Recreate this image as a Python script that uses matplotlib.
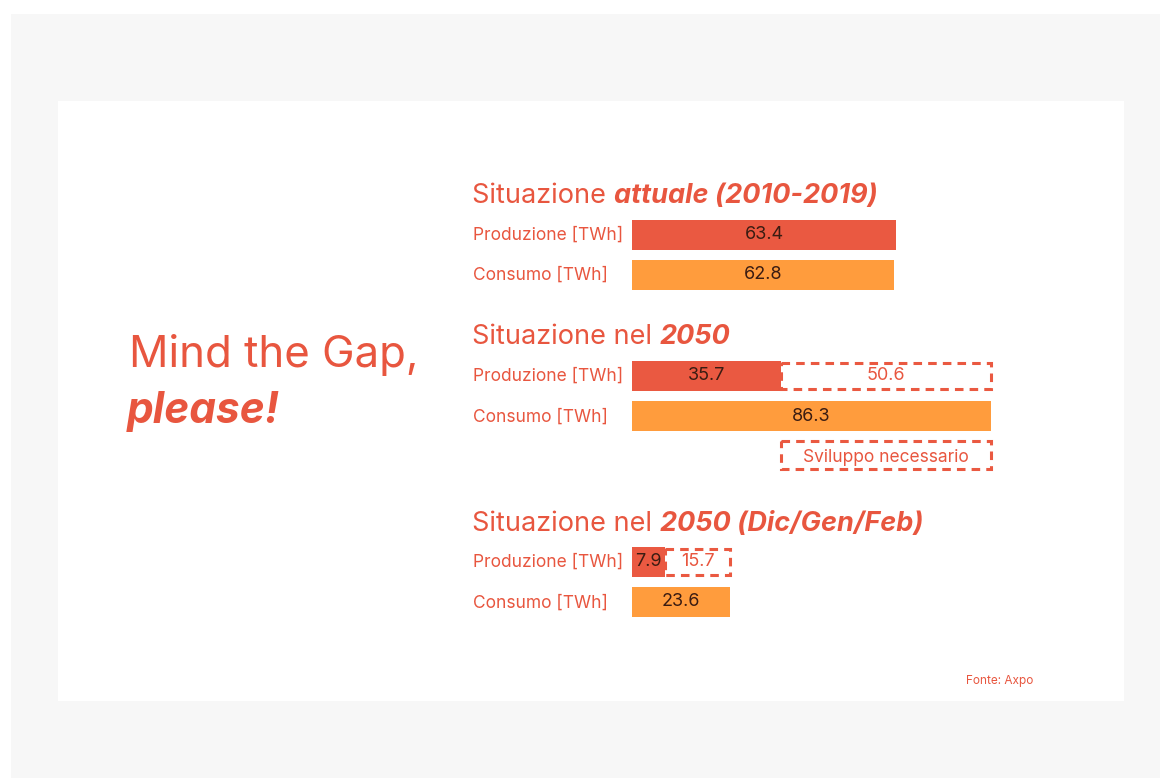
import matplotlib.pyplot as plt
from matplotlib.patches import Rectangle

# dati (TWh)
groups = ['attuale (2010-2019)', '2050', '2050 (Dic/Gen/Feb)']
produzione = [63.4, 35.7, 7.9]
consumo = [62.8, 86.3, 23.6]
gap = [None, 50.6, 15.7]
row_labels = ['Produzione [TWh]', 'Consumo [TWh]']
title_pre = ['Situazione ', 'Situazione nel ', 'Situazione nel ']

RED = '#EA5941'
ORANGE = '#FF9C3D'
TXT = '#E8563F'
DARK = '#3a1c12'
FONT = 'Inter'

plt.rcParams['font.family'] = [FONT, 'DejaVu Sans']

W, H = 1160, 778
fig = plt.figure(figsize=(W / 100, H / 100), dpi=100)

# sfondo
bg = fig.add_axes([0, 0, 1, 1])
bg.set_xlim(0, W)
bg.set_ylim(H, 0)
bg.axis('off')
bg.add_patch(Rectangle((11, 14), W - 11, H - 14, color='#f7f7f7', lw=0))
bg.add_patch(Rectangle((58, 101), 1124 - 58, 701 - 101, color='white', lw=0))

# asse delle barre: x in TWh, y in pixel
x0 = 632
scale = 264 / 63.4  # px per TWh
ax = fig.add_axes([x0 / W, 0, 1 - x0 / W, 1])
ax.set_xlim(0, (W - x0) / scale)
ax.set_ylim(H, 0)
ax.axis('off')

title_y = [196, 337, 524]
prod_y = [234.5, 375.5, 561.5]
cons_y = [274.5, 416, 602]
bar_h = 30
dash = (0, (2.8, 2))

for i in range(3):
    # titolo
    t = bg.text(472, title_y[i], title_pre[i], color=TXT, fontsize=19.5,
                va='center', ha='left')
    bg.annotate(groups[i], xy=(1, 0), xycoords=t, va='bottom', ha='left',
                color=TXT, fontsize=19.5, fontweight='bold', fontstyle='italic')
    # etichette righe
    bg.text(473, prod_y[i] + 1, row_labels[0], color=TXT, fontsize=12.5, va='center')
    bg.text(473, cons_y[i] + 1, row_labels[1], color=TXT, fontsize=12.5, va='center')

    # barre
    ax.barh(prod_y[i], produzione[i], height=bar_h, color=RED, lw=0)
    ax.barh(cons_y[i], consumo[i], height=bar_h, color=ORANGE, lw=0)
    ax.text(produzione[i] / 2, prod_y[i], f'{produzione[i]}', color=DARK,
            fontsize=13, ha='center', va='center')
    ax.text(consumo[i] / 2, cons_y[i], f'{consumo[i]}', color=DARK,
            fontsize=13, ha='center', va='center')

    if gap[i] is not None:
        ax.barh(prod_y[i], gap[i], left=produzione[i], height=bar_h - 4,
                fill=False, edgecolor=RED, lw=2.2, linestyle=dash)
        ax.text(produzione[i] + gap[i] / 2, prod_y[i], f'{gap[i]}', color=TXT,
                fontsize=13, ha='center', va='center')

# riquadro legenda "Sviluppo necessario"
ax.barh(455, gap[1], left=produzione[1], height=bar_h - 2, fill=False,
        edgecolor=RED, lw=2.2, linestyle=dash)
ax.text(produzione[1] + gap[1] / 2, 457, 'Sviluppo necessario', color=TXT,
        fontsize=12.5, ha='center', va='center')

# titolo principale
bg.text(129, 355, 'Mind the Gap,', color=TXT, fontsize=31.5, va='center')
bg.text(127, 411, 'please!', color=TXT, fontsize=30.5, va='center',
        fontweight='bold', fontstyle='italic')

bg.text(966, 681, 'Fonte: Axpo', color=TXT, fontsize=8.5, va='center')

fig.savefig('out.png', dpi=100)
